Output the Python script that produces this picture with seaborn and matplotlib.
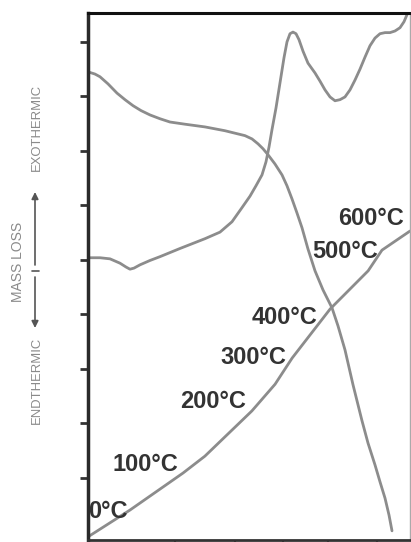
import matplotlib
matplotlib.use("Agg")
import matplotlib.pyplot as plt
import seaborn as sns
import pandas as pd
from matplotlib.lines import Line2D

# ---------------- data (axis units) ----------------
tga_x = [0, 2.17, 3.73, 6.21, 9.01, 11.49, 13.98, 16.46, 19.25, 22.36, 25.47, 30.12,
         36.34, 42.55, 48.76, 50.93, 52.80, 54.35, 55.90, 58.07, 60.25, 61.80, 63.35,
         64.91, 66.46, 68.32, 70.50, 72.98, 75.78, 77.64, 79.81, 82.30, 85.09, 86.96,
         89.13, 90.68, 92.24, 93.48, 94.41]
tga_y = [8.45, 8.41, 8.36, 8.23, 8.06, 7.94, 7.83, 7.74, 7.66, 7.59, 7.53, 7.49,
         7.44, 7.37, 7.28, 7.22, 7.13, 7.04, 6.93, 6.76, 6.56, 6.36, 6.12,
         5.86, 5.59, 5.20, 4.80, 4.45, 4.12, 3.79, 3.35, 2.71, 2.05, 1.64,
         1.24, 0.93, 0.63, 0.32, 0.03]

dta_x = [0, 3.73, 6.83, 9.94, 11.80, 13.04, 14.29, 16.15, 19.25, 22.36, 28.57, 36.34,
         40.99, 44.72, 47.83, 50.31, 52.17, 54.04, 55.28, 56.21, 57.14, 58.39, 59.63,
         60.87, 61.80, 62.73, 63.66, 64.60, 65.53, 66.77, 68.32, 70.50, 72.05, 73.60,
         75.16, 76.71, 78.26, 79.81, 81.37, 82.92, 84.47, 86.02, 87.58, 89.13, 90.68,
         92.24, 93.79, 95.34, 96.89, 98.14, 99.07, 100]
dta_y = [5.04, 5.04, 5.02, 4.94, 4.87, 4.83, 4.85, 4.91, 4.99, 5.06, 5.21, 5.39,
         5.51, 5.70, 5.96, 6.17, 6.36, 6.56, 6.80, 7.07, 7.39, 7.79, 8.25,
         8.71, 9.00, 9.15, 9.18, 9.15, 9.04, 8.83, 8.61, 8.43, 8.28, 8.12,
         7.99, 7.92, 7.94, 7.99, 8.12, 8.30, 8.50, 8.72, 8.93, 9.07, 9.15,
         9.17, 9.17, 9.20, 9.26, 9.37, 9.50, 9.59]

temp_x = [0, 13.0, 29.5, 36.3, 50.9, 58.1, 63.4, 75.2, 87.0, 91.3, 100]
temp_y = [-0.08, 0.41, 1.09, 1.40, 2.23, 2.72, 3.20, 4.10, 4.80, 5.18, 5.53]

temp_labels = ["0°C", "100°C", "200°C", "300°C", "400°C", "500°C", "600°C"]
label_x = [0, 7.5, 28.6, 41.0, 50.9, 69.6, 77.6]
label_y = [0.27, 1.13, 2.28, 3.09, 3.83, 5.04, 5.64]

x_ticks = [27.0, 45.7, 60.6, 74.5, 89.8]
y_ticks = [1, 2, 3, 4, 5, 6, 7, 8, 9]

# ---------------- style ----------------
sns.set_style("white")
plt.rcParams["font.family"] = ["Liberation Sans", "DejaVu Sans"]

W, H = 411, 542
fig = plt.figure(figsize=(W / 100, H / 100), dpi=100)
ax = fig.add_axes([88 / W, 2 / H, (410 - 88) / W, (540 - 13) / H])

line_col = "#8c8c8c"
for xs, ys in [(tga_x, tga_y), (dta_x, dta_y), (temp_x, temp_y)]:
    df = pd.DataFrame({"x": xs, "y": ys})
    sns.lineplot(data=df, x="x", y="y", sort=False, estimator=None,
                 color=line_col, linewidth=2.0, ax=ax)

for t, x, y in zip(temp_labels, label_x, label_y):
    ax.text(x, y, t, fontsize=17, fontweight="bold", color="#333333",
            ha="left", va="baseline")

ax.set_xlim(0, 100)
ax.set_ylim(-0.138, 9.53)
ax.set_xticks(x_ticks)
ax.set_yticks(y_ticks)
ax.set_xticklabels([])
ax.set_yticklabels([])
ax.set_xlabel("")
ax.set_ylabel("")
ax.tick_params(axis="y", direction="out", length=6, width=2, color="#333333", left=True)
ax.tick_params(axis="x", direction="out", length=4, width=1.5, color="#333333", bottom=True)

ax.spines["left"].set_linewidth(2.5)
ax.spines["left"].set_color("#2a2a2a")
ax.spines["top"].set_linewidth(2.2)
ax.spines["top"].set_color("#111111")
ax.spines["bottom"].set_linewidth(2.0)
ax.spines["bottom"].set_color("#333333")
ax.spines["right"].set_linewidth(1.0)
ax.spines["right"].set_color("#aaaaaa")

# ---------------- rotated axis annotation ----------------
lab_col = "#8a8a8a"
fig.text(37 / W, (H - 127) / H, "EXOTHERMIC", rotation=90, ha="center", va="center",
         fontsize=9.4, color=lab_col)
fig.text(37 / W, (H - 380) / H, "ENDTHERMIC", rotation=90, ha="center", va="center",
         fontsize=9.4, color=lab_col)
fig.text(18 / W, (H - 262) / H, "MASS LOSS", rotation=90, ha="center", va="center",
         fontsize=10, color=lab_col)

arr_col = "#555555"
fig.add_artist(matplotlib.patches.FancyArrowPatch(
    (35 / W, (H - 265) / H), (35 / W, (H - 192) / H), transform=fig.transFigure,
    arrowstyle="-|>", mutation_scale=10, color=arr_col, lw=1.2, shrinkA=0, shrinkB=0))
fig.add_artist(matplotlib.patches.FancyArrowPatch(
    (35 / W, (H - 277) / H), (35 / W, (H - 328) / H), transform=fig.transFigure,
    arrowstyle="-|>", mutation_scale=10, color=arr_col, lw=1.2, shrinkA=0, shrinkB=0))
fig.add_artist(Line2D([32 / W, 39 / W], [(H - 271) / H, (H - 271) / H],
                      transform=fig.transFigure, color=arr_col, lw=1.2))

fig.savefig("out.png", dpi=100)
